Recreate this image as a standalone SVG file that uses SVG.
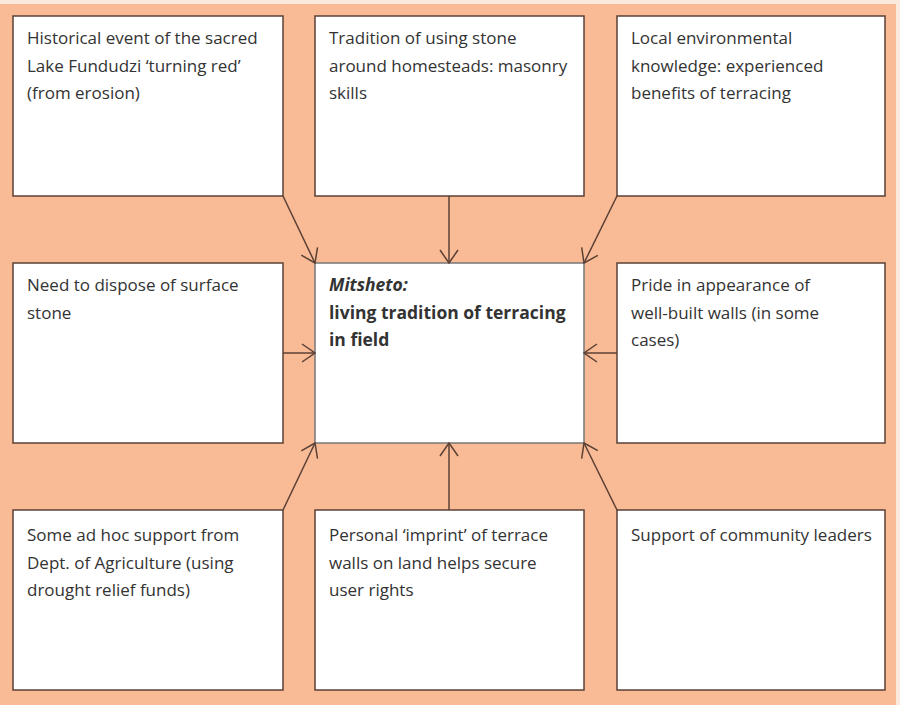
<svg xmlns="http://www.w3.org/2000/svg" width="900" height="705" viewBox="0 0 900 705">
<style>
.box{fill:#ffffff;stroke:#5b4036;stroke-width:1.5}
.t{font-family:"Open Sans","Noto Sans","Liberation Sans",sans-serif;font-size:17px;fill:#333333}
.b{font-weight:bold;font-size:17.5px}
.conn line{stroke:#5b4036;stroke-width:1.5;fill:none}
</style>
<defs>
<marker id="arr" viewBox="0 0 20 20" refX="19" refY="10" markerWidth="20" markerHeight="20" markerUnits="userSpaceOnUse" orient="auto">
<path d="M6,1 L19,10 L6,19" fill="none" stroke="#5b4036" stroke-width="1.5"/>
</marker>
</defs>
<rect x="0" y="0" width="900" height="705" fill="#fbe9dd"/>
<rect x="0" y="4" width="896" height="701" fill="#f9bb95"/>
<g id="n1"><rect class="box" x="13" y="16" width="270" height="180"/>
<text class="t" x="27" y="44">Historical event of the sacred</text>
<text class="t" x="27" y="71.5">Lake Fundudzi ‘turning red’</text>
<text class="t" x="27" y="99">(from erosion)</text></g>
<g id="n2"><rect class="box" x="315" y="16" width="269" height="180"/>
<text class="t" x="329" y="44">Tradition of using stone</text>
<text class="t" x="329" y="71.5">around homesteads: masonry</text>
<text class="t" x="329" y="99">skills</text></g>
<g id="n3"><rect class="box" x="617" y="16" width="268" height="180"/>
<text class="t" x="631" y="44">Local environmental</text>
<text class="t" x="631" y="71.5">knowledge: experienced</text>
<text class="t" x="631" y="99">benefits of terracing</text></g>
<g id="n4"><rect class="box" x="13" y="263" width="270" height="180"/>
<text class="t" x="27" y="291">Need to dispose of surface</text>
<text class="t" x="27" y="318.5">stone</text></g>
<g id="center"><rect class="box" x="315" y="263" width="269" height="180" style="stroke:#777"/>
<text class="t b" x="329" y="291" font-style="italic">Mitsheto:</text>
<text class="t b" x="329" y="318.5">living tradition of terracing</text>
<text class="t b" x="329" y="346">in field</text></g>
<g id="n5"><rect class="box" x="617" y="263" width="268" height="180"/>
<text class="t" x="631" y="291">Pride in appearance of</text>
<text class="t" x="631" y="318.5">well-built walls (in some</text>
<text class="t" x="631" y="346">cases)</text></g>
<g id="n6"><rect class="box" x="13" y="510" width="270" height="180"/>
<text class="t" x="27" y="541">Some ad hoc support from</text>
<text class="t" x="27" y="568.5">Dept. of Agriculture (using</text>
<text class="t" x="27" y="596">drought relief funds)</text></g>
<g id="n7"><rect class="box" x="315" y="510" width="269" height="180"/>
<text class="t" x="329" y="541">Personal ‘imprint’ of terrace</text>
<text class="t" x="329" y="568.5">walls on land helps secure</text>
<text class="t" x="329" y="596">user rights</text></g>
<g id="n8"><rect class="box" x="617" y="510" width="268" height="180"/>
<text class="t" x="631" y="541">Support of community leaders</text></g>
<g id="connectors" class="conn">
<line x1="283" y1="196" x2="315" y2="263" marker-end="url(#arr)"/>
<line x1="449" y1="196" x2="449" y2="263" marker-end="url(#arr)"/>
<line x1="617" y1="196" x2="584" y2="263" marker-end="url(#arr)"/>
<line x1="283" y1="353" x2="315" y2="353" marker-end="url(#arr)"/>
<line x1="617" y1="353" x2="584" y2="353" marker-end="url(#arr)"/>
<line x1="283" y1="510" x2="315" y2="443" marker-end="url(#arr)"/>
<line x1="449" y1="510" x2="449" y2="443" marker-end="url(#arr)"/>
<line x1="617" y1="510" x2="584" y2="443" marker-end="url(#arr)"/>
</g>
</svg>
